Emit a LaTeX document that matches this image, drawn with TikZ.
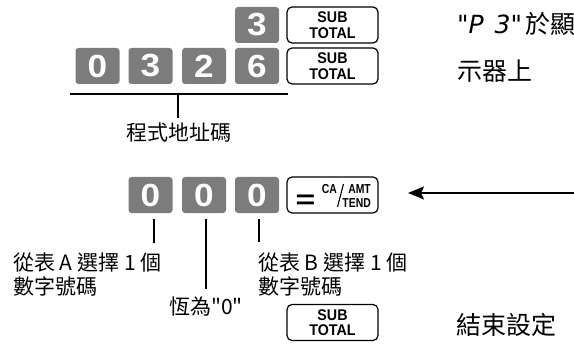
\documentclass[tikz,border=0pt]{standalone}
\usepackage{fontspec}
\setmainfont{Liberation Sans}
\newfontfamily\cjk{Noto Sans CJK TC}
\newfontfamily\digitfont[FakeStretch=1.1]{Liberation Sans}
\newfontfamily\capfont[FakeStretch=0.92]{Liberation Sans}
\newfontfamily\smallcapfont[FakeStretch=0.8]{Liberation Sans}
\newfontfamily\eqfont[FakeStretch=1.3]{Liberation Sans}
\newfontfamily\segfont{DejaVu Sans}
\usetikzlibrary{arrows.meta}
\definecolor{keygray}{RGB}{124,124,124}
\tikzset{
  numkey/.style={rectangle, rounded corners=3pt, fill=keygray, minimum width=44pt, minimum height=36pt, inner sep=0pt, text=white, font=\digitfont\bfseries\fontsize{32}{32}\selectfont},
  fnkey/.style={rectangle, rounded corners=5pt, draw=black, line width=1.2pt, fill=white, minimum width=91pt, minimum height=36pt, inner sep=0pt},
  keytxt/.style={font=\capfont\bfseries\fontsize{15.5}{15.5}\selectfont, align=center},
  tinytxt/.style={font=\smallcapfont\bfseries\fontsize{13}{13}\selectfont, inner sep=0pt},
  lbl/.style={font=\cjk\fontsize{21}{23.5}\selectfont, inner sep=0pt},
  rlbl/.style={font=\cjk\fontsize{25}{25}\selectfont, inner sep=0pt, anchor=base west},
  conn/.style={line width=1.5pt},
}
\begin{document}
\begin{tikzpicture}[x=1pt,y=-1pt]
\useasboundingbox (0,0) rectangle (574,345);
% row 1
\node[numkey] (k13) at (257,25) {3};
\node[fnkey,keytxt] (st1) at (332.5,25) {SUB\\TOTAL};
% row 2
\node[numkey] (k20) at (97.5,66) {0};
\node[numkey] (k21) at (150.5,66) {3};
\node[numkey] (k22) at (204,66) {2};
\node[numkey] (k23) at (257,66) {6};
\node[fnkey,keytxt] (st2) at (332.5,66) {SUB\\TOTAL};
% underline
\coordinate (ulL) at (70,94);
\coordinate (ulR) at (288,94);
\coordinate (ulM) at (178,94);
\draw[conn] (ulL) -- (ulR);
\node[lbl, anchor=north, inner sep=5pt] (prog) at (179,118) {程式地址碼};
\draw[conn] (ulM) -- (ulM |- prog.north);
% right texts
\node[rlbl] (disp1) at (457,34) {{\segfont\itshape\fontsize{25}{25}\selectfont "P\hspace{3pt} 3"}\hspace{3pt}於顯};
\node[rlbl] (disp2) at (457,81) {示器上};
% row 3
\node[numkey] (k31) at (150.5,195) {0};
\node[numkey] (k32) at (204,195) {0};
\node[numkey] (k33) at (257,195) {0};
\node[fnkey] (eq) at (332.5,195) {};
\node[font=\eqfont\bfseries\fontsize{26}{26}\selectfont, inner sep=0pt] (eqsign) at ([shift={(-27,6.5)}]eq.center) {=};
\node[tinytxt, anchor=east] (ca) at (337,189) {CA};
\node[tinytxt, anchor=east] (amt) at (371,189) {AMT};
\node[tinytxt, anchor=east] (tend) at (371,203) {TEND};
\draw[line width=1.1pt] ([shift={(5,12)}]eq.center) -- ([shift={(11,-11)}]eq.center);
% arrow
\coordinate (arrS) at (580,193);
\coordinate (arrE) at (408,193);
\draw[conn, -{Stealth[length=16pt,width=13pt,inset=3pt]}] (arrS) -- (arrE);
% ticks
\coordinate (t1a) at (154,219); \coordinate (t1b) at (154,243);
\coordinate (t2a) at (206,219); \coordinate (t2b) at (206,289);
\coordinate (t3a) at (259,219); \coordinate (t3b) at (259,242);
\draw[conn] (t1a) -- (t1b);
\draw[conn] (t2a) -- (t2b);
\draw[conn] (t3a) -- (t3b);
% labels
\node[lbl, anchor=base west] (la1) at (13,270.5) {從表 A 選擇 1 個};
\node[lbl, anchor=base west] (la2) at (13,294) {數字號碼};
\node[lbl, anchor=base west] (lb1) at (258,270.5) {從表 B 選擇 1 個};
\node[lbl, anchor=base west] (lb2) at (258,294) {數字號碼};
\node[lbl, anchor=base] (lc) at (206,314.5) {恆為"0"};
% end
\node[fnkey,keytxt] (st3) at (332.5,322.5) {SUB\\TOTAL};
\node[rlbl] (endtxt) at (456,334.5) {結束設定};
\end{tikzpicture}
\end{document}
